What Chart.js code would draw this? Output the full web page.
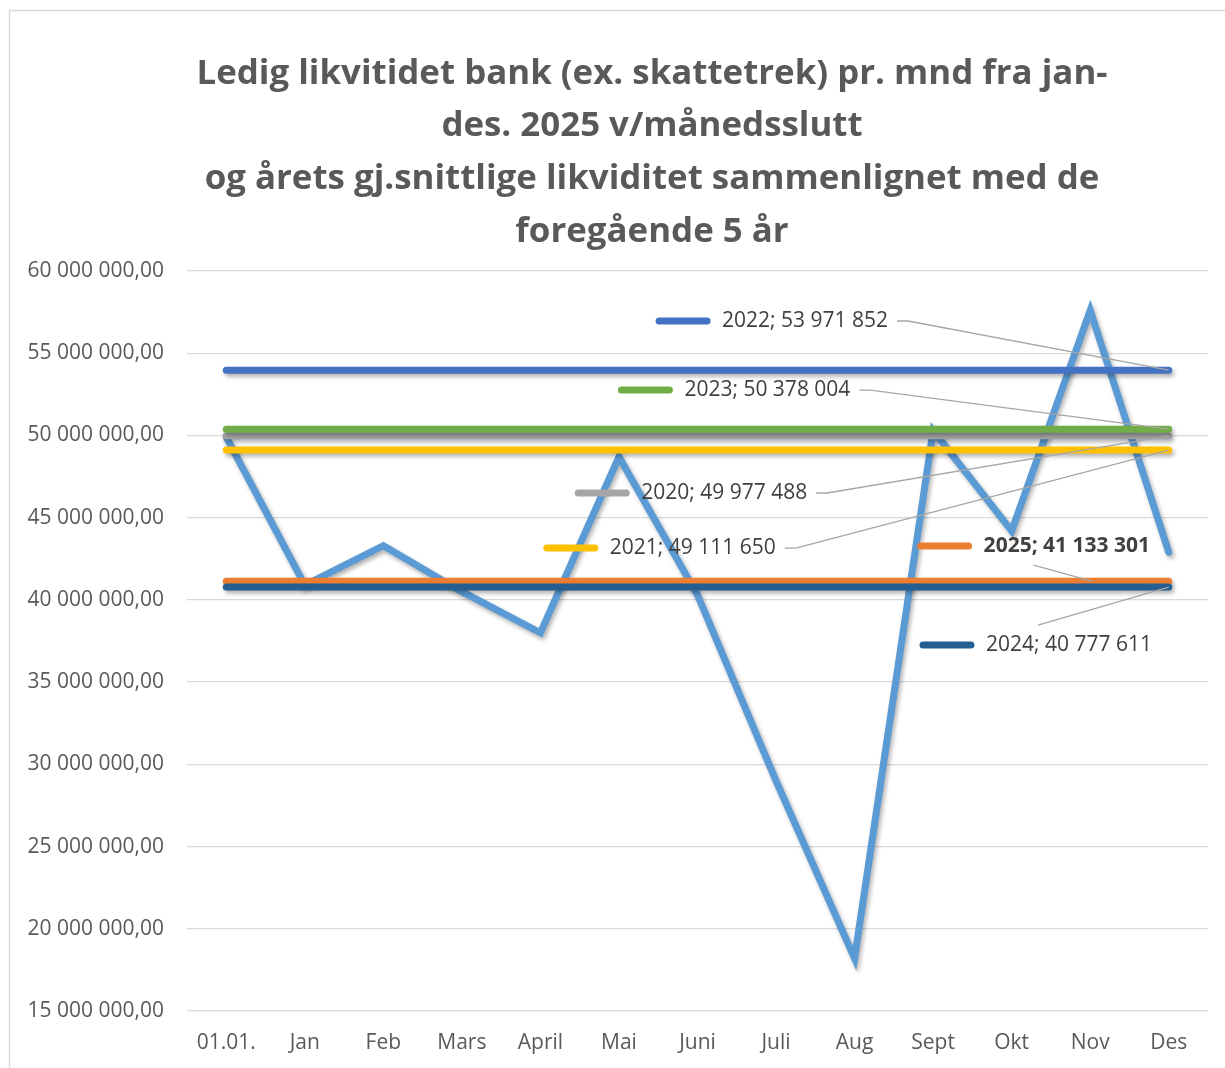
<!DOCTYPE html>
<html>
<head>
<meta charset="utf-8">
<script src="https://cdn.jsdelivr.net/npm/chart.js@4.4.1/dist/chart.umd.min.js"></script>
<style>
  html, body { margin: 0; padding: 0; background: #fff; overflow: hidden; }
  #wrap { position: relative; width: 1225px; height: 1068px; }
</style>
</head>
<body>
<div id="wrap"><canvas id="liqChart" width="1225" height="1068"></canvas></div>
<script>
// Ledig likviditet bank 2025 pr. mnd, mot snittet for de 5 foregående år.

const months = ["01.01.", "Jan", "Feb", "Mars", "April", "Mai", "Juni", "Juli", "Aug", "Sept", "Okt", "Nov", "Des"];

// saldo ved månedsslutt 2025 (kr), lest av bildet
const balance2025 = [49900000, 40900000, 43300000, 40500000, 38000000, 48700000, 40300000,
  29000000, 18200000, 50300000, 44200000, 57600000, 42900000];

// årets gjennomsnitt
const avgYears = ["2022", "2023", "2020", "2021", "2025", "2024"];
const avgValues = [53971852, 50378004, 49977488, 49111650, 41133301, 40777611];

const yMin = 15000000;
const yMax = 60000000;
const yStep = 5000000;

const titleLines = [
  "Ledig likvitidet bank (ex. skattetrek) pr. mnd fra jan-",
  "des. 2025 v/månedsslutt",
  "og årets gj.snittlige likviditet sammenlignet med de",
  "foregående 5 år"
];

// styling
const mainColor = "#5B9BD5";
const avgColors = ["#4472C4", "#70AD47", "#A5A5A5", "#FFC000", "#ED7D31", "#255E91"];
const avgOrder = [1, 0, 2, 3, 5, 4];   // 0 = drawn on top
const FONT = "'Open Sans', 'Noto Sans', sans-serif";

// where each label sits (category index / value) and how its leader line leaves it
const labelLayout = [
  { x: 5.46, y: 56960000, leader: "right" },
  { x: 4.98, y: 52760000, leader: "right" },
  { x: 4.43, y: 46500000, leader: "right" },
  { x: 4.03, y: 43150000, leader: "right" },
  { x: 8.79, y: 43270000, leader: "bottom", target: 11.03, bold: true },
  { x: 8.82, y: 37250000, leader: "top" }
];

function spaced(v) {
  return String(Math.round(v)).replace(/\B(?=(\d{3})+(?!\d))/g, " ");
}

const frame = {
  id: "frame",
  beforeDraw(chart) {
    const ctx = chart.ctx;
    ctx.save();
    ctx.fillStyle = "#fff";
    ctx.fillRect(0, 0, chart.width, chart.height);
    ctx.strokeStyle = "#D9D9D9";
    ctx.lineWidth = 1.5;
    ctx.strokeRect(9.5, 10.5, 1400, 1200);
    ctx.restore();
  }
};

const lineShadow = {
  id: "lineShadow",
  beforeDatasetDraw(chart) {
    const c = chart.ctx;
    c.save();
    c.shadowColor = "rgba(0,0,0,0.30)";
    c.shadowBlur = 4;
    c.shadowOffsetX = 2;
    c.shadowOffsetY = 3;
  },
  afterDatasetDraw(chart) {
    chart.ctx.restore();
  }
};

const titleDraw = {
  id: "titleDraw",
  afterDraw(chart) {
    const ctx = chart.ctx;
    ctx.save();
    ctx.font = "bold 34px " + FONT;
    const sx = 911 / ctx.measureText(titleLines[0]).width;
    ctx.fillStyle = "#595959";
    ctx.textAlign = "center";
    ctx.textBaseline = "middle";
    titleLines.forEach((ln, i) => {
      ctx.save();
      ctx.translate(652, 74 + i * 52.8);
      ctx.scale(sx, 1);
      ctx.fillText(ln, 0, 0);
      ctx.restore();
    });
    ctx.restore();
  }
};

const avgLabels = {
  id: "avgLabels",
  afterDatasetsDraw(chart) {
    const { ctx, scales: { x, y } } = chart;
    ctx.save();
    avgYears.forEach((yr, i) => {
      const lay = labelLayout[i];
      const sx = x.getPixelForValue(lay.x);
      const sy = y.getPixelForValue(lay.y);

      ctx.strokeStyle = avgColors[i];
      ctx.lineWidth = 7;
      ctx.lineCap = "round";
      ctx.beginPath();
      ctx.moveTo(sx + 4, sy);
      ctx.lineTo(sx + 52, sy);
      ctx.stroke();

      const txt = yr + "; " + spaced(avgValues[i]);
      ctx.font = (lay.bold ? "bold " : "") + "21px " + FONT;
      ctx.fillStyle = "#404040";
      ctx.textAlign = "left";
      ctx.textBaseline = "middle";
      const tx = sx + 67;
      ctx.fillText(txt, tx, sy);
      const w = ctx.measureText(txt).width;

      const px = x.getPixelForValue(lay.target ?? months.length - 1);
      const py = y.getPixelForValue(avgValues[i]);
      ctx.strokeStyle = "#A6A6A6";
      ctx.lineWidth = 1.3;
      ctx.lineCap = "butt";
      ctx.beginPath();
      if (lay.leader === "right") {
        ctx.moveTo(tx + w + 9, sy);
        ctx.lineTo(tx + w + 20, sy);
      } else if (lay.leader === "bottom") {
        ctx.moveTo(tx + 50, sy + 19);
      } else {
        ctx.moveTo(tx + 52, sy - 20);
      }
      ctx.lineTo(px, py);
      ctx.stroke();
    });
    ctx.restore();
  }
};

const datasets = avgYears.map((yr, i) => ({
  label: yr,
  data: months.map(() => avgValues[i]),
  borderColor: avgColors[i],
  borderWidth: 7,
  borderCapStyle: "round",
  order: avgOrder[i]
}));
datasets.push({
  label: "Likviditet 2025",
  data: balance2025,
  borderColor: mainColor,
  borderWidth: 7,
  borderCapStyle: "round",
  borderJoinStyle: "miter",
  order: 10
});

new Chart(document.getElementById("liqChart"), {
  type: "line",
  data: { labels: months, datasets },
  plugins: [frame, lineShadow, avgLabels, titleDraw],
  options: {
    responsive: false,
    animation: false,
    devicePixelRatio: 1,
    layout: { padding: { top: 271, right: 17, bottom: 13, left: 0 } },
    elements: { point: { radius: 0, hoverRadius: 0 }, line: { tension: 0 } },
    plugins: {
      legend: { display: false },
      tooltip: { enabled: false },
      title: { display: false }
    },
    scales: {
      x: {
        offset: true,
        afterFit(scale) { scale.height = 44; },
        grid: { display: false, drawTicks: false },
        border: { display: false },
        ticks: { color: "#595959", font: { family: FONT, size: 21 }, padding: 19, maxRotation: 0, autoSkip: false }
      },
      y: {
        min: yMin,
        max: yMax,
        afterFit(scale) { scale.width = 187; },
        grid: { color: "#D9D9D9", lineWidth: 1.3, drawTicks: false },
        border: { display: false },
        ticks: {
          stepSize: yStep,
          color: "#595959",
          font: { family: FONT, size: 21 },
          padding: 23,
          callback: (v) => spaced(v) + ",00"
        }
      }
    }
  }
});
</script>
</body>
</html>
